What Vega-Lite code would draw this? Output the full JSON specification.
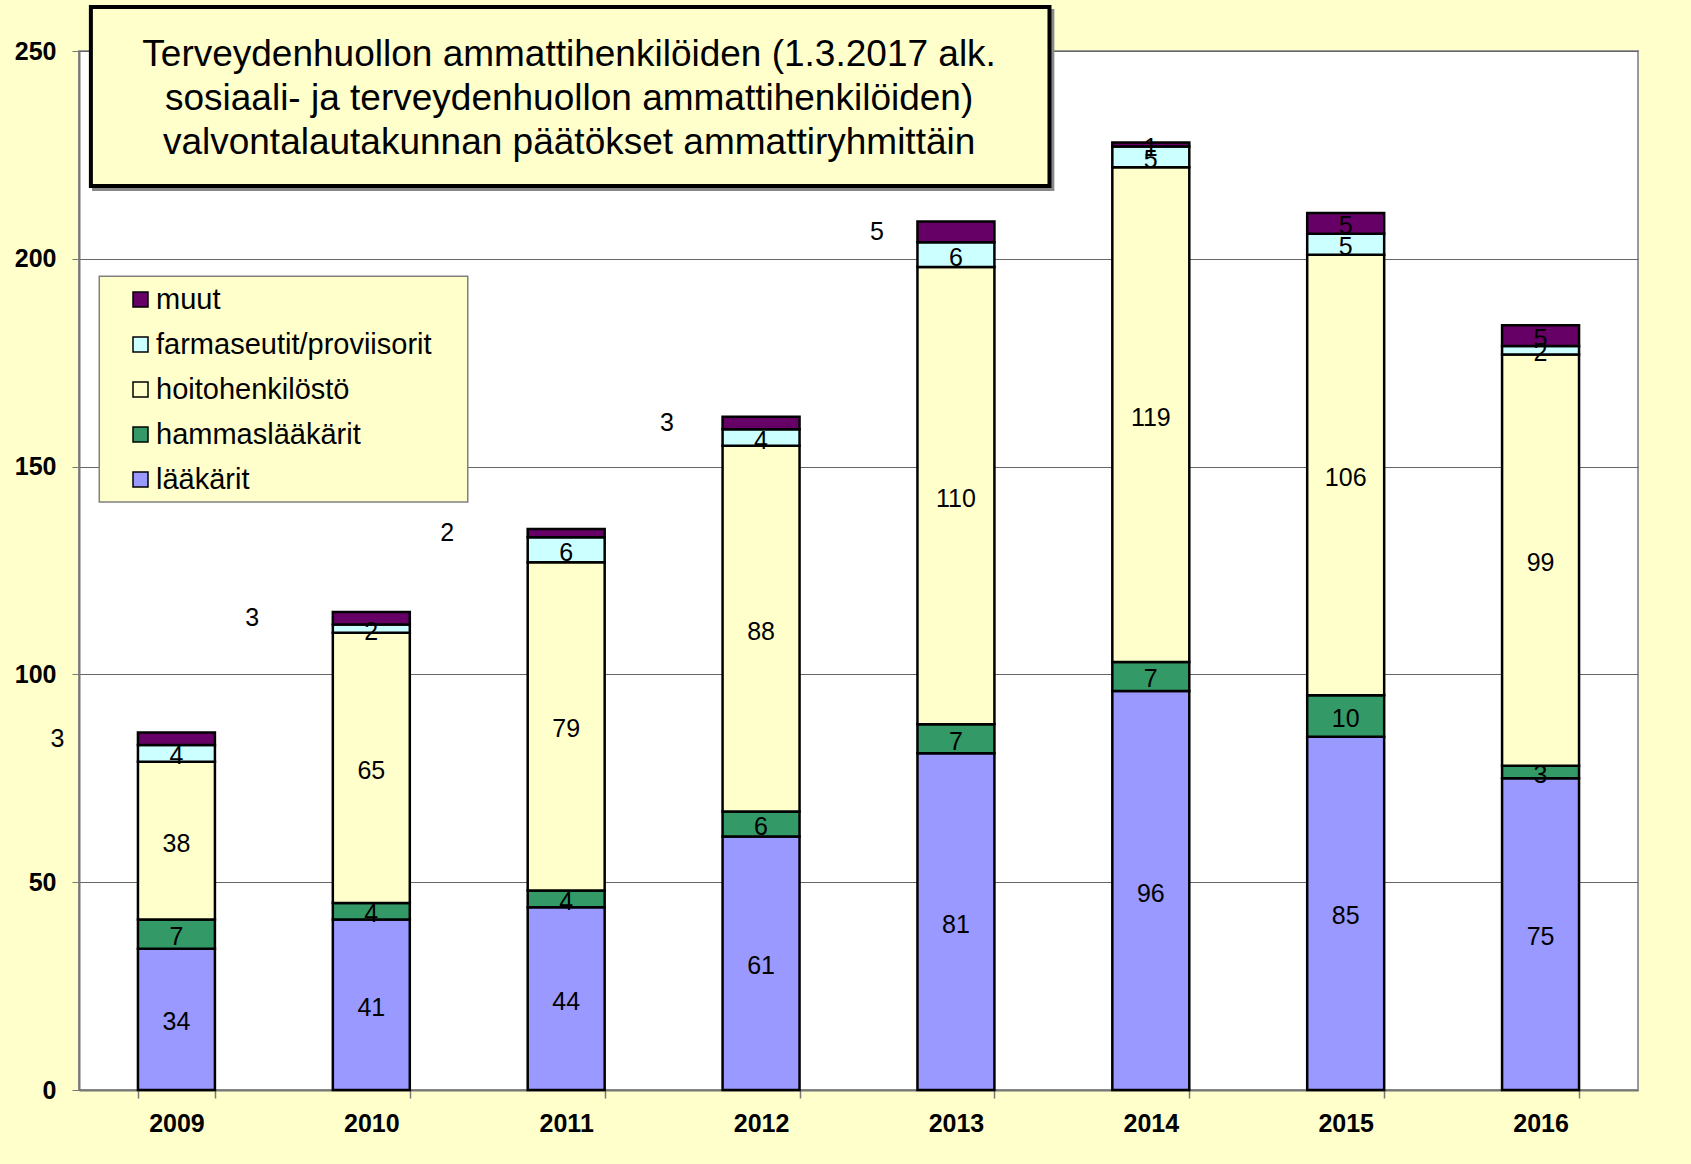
{
  "$schema": "https://vega.github.io/schema/vega-lite/v6.json",
  "width": 1559,
  "height": 1039,
  "autosize": {"type": "none"},
  "padding": {"left": 79, "top": 51, "right": 53, "bottom": 74},
  "background": "#FFFFCC",
  "config": {
    "font": "Liberation Sans",
    "view": {"fill": "white", "stroke": "#999999", "strokeWidth": 2}
  },
  "datasets": {
    "d": [
      {"year": "2009", "group": "lääkärit", "n": 34},
      {"year": "2009", "group": "hammaslääkärit", "n": 7},
      {"year": "2009", "group": "hoitohenkilöstö", "n": 38},
      {"year": "2009", "group": "farmaseutit/proviisorit", "n": 4},
      {"year": "2009", "group": "muut", "n": 3},
      {"year": "2010", "group": "lääkärit", "n": 41},
      {"year": "2010", "group": "hammaslääkärit", "n": 4},
      {"year": "2010", "group": "hoitohenkilöstö", "n": 65},
      {"year": "2010", "group": "farmaseutit/proviisorit", "n": 2},
      {"year": "2010", "group": "muut", "n": 3},
      {"year": "2011", "group": "lääkärit", "n": 44},
      {"year": "2011", "group": "hammaslääkärit", "n": 4},
      {"year": "2011", "group": "hoitohenkilöstö", "n": 79},
      {"year": "2011", "group": "farmaseutit/proviisorit", "n": 6},
      {"year": "2011", "group": "muut", "n": 2},
      {"year": "2012", "group": "lääkärit", "n": 61},
      {"year": "2012", "group": "hammaslääkärit", "n": 6},
      {"year": "2012", "group": "hoitohenkilöstö", "n": 88},
      {"year": "2012", "group": "farmaseutit/proviisorit", "n": 4},
      {"year": "2012", "group": "muut", "n": 3},
      {"year": "2013", "group": "lääkärit", "n": 81},
      {"year": "2013", "group": "hammaslääkärit", "n": 7},
      {"year": "2013", "group": "hoitohenkilöstö", "n": 110},
      {"year": "2013", "group": "farmaseutit/proviisorit", "n": 6},
      {"year": "2013", "group": "muut", "n": 5},
      {"year": "2014", "group": "lääkärit", "n": 96},
      {"year": "2014", "group": "hammaslääkärit", "n": 7},
      {"year": "2014", "group": "hoitohenkilöstö", "n": 119},
      {"year": "2014", "group": "farmaseutit/proviisorit", "n": 5},
      {"year": "2014", "group": "muut", "n": 1},
      {"year": "2015", "group": "lääkärit", "n": 85},
      {"year": "2015", "group": "hammaslääkärit", "n": 10},
      {"year": "2015", "group": "hoitohenkilöstö", "n": 106},
      {"year": "2015", "group": "farmaseutit/proviisorit", "n": 5},
      {"year": "2015", "group": "muut", "n": 5},
      {"year": "2016", "group": "lääkärit", "n": 75},
      {"year": "2016", "group": "hammaslääkärit", "n": 3},
      {"year": "2016", "group": "hoitohenkilöstö", "n": 99},
      {"year": "2016", "group": "farmaseutit/proviisorit", "n": 2},
      {"year": "2016", "group": "muut", "n": 5}
    ]
  },
  "layer": [
    {
      "data": {"name": "d"},
      "transform": [{"stack": "n", "groupby": ["year"], "as": ["y0", "y1"]}],
      "layer": [
        {
          "mark": {"type": "bar", "stroke": "black", "strokeWidth": 2.5},
          "encoding": {
            "x": {
              "field": "year", "type": "nominal", "title": null,
              "scale": {"paddingInner": 0.605, "paddingOuter": 0.3025},
              "axis": {
                "labelAngle": 0, "labelFontSize": 25, "labelFontWeight": "bold", "labelColor": "black",
                "labelPadding": 13, "tickBand": "extent", "tickSize": 8, "tickColor": "#777777",
                "domainColor": "#777777", "domainWidth": 2, "tickWidth": 1.5, "grid": false
              }
            },
            "y": {
              "field": "y0", "type": "quantitative", "title": null,
              "scale": {"domain": [0, 250], "nice": false},
              "axis": {
                "values": [0, 50, 100, 150, 200, 250], "labelFontSize": 25, "labelFontWeight": "bold",
                "labelColor": "black", "labelPadding": 16, "tickSize": 7, "tickColor": "#777777",
                "domainColor": "#777777", "domainWidth": 2, "grid": true, "gridColor": "#666666", "gridWidth": 1
              }
            },
            "y2": {"field": "y1"},
            "color": {
              "field": "group", "type": "nominal",
              "scale": {
                "domain": ["muut", "farmaseutit/proviisorit", "hoitohenkilöstö", "hammaslääkärit", "lääkärit"],
                "range": ["#660066", "#CCFFFF", "#FFFFCC", "#339966", "#9999FF"]
              },
              "legend": {
                "title": null, "orient": "none", "legendX": 47, "legendY": 234, "padding": 0,
                "labelFontSize": 29, "labelColor": "black", "labelOffset": 1, "labelLimit": 500,
                "symbolType": "square", "symbolSize": 225, "symbolStrokeColor": "black", "symbolStrokeWidth": 1.5,
                "rowPadding": 15
              }
            }
          }
        },
        {
          "transform": [
            {"filter": {"not": {"and": [{"field": "group", "equal": "muut"}, {"field": "year", "oneOf": ["2009", "2010", "2011", "2012", "2013"]}]}}},
            {"fold": ["y0", "y1"], "as": ["k", "v"]}
          ],
          "mark": {"type": "text", "fontSize": 25, "color": "black", "baseline": "middle", "dy": 3},
          "encoding": {
            "x": {"field": "year", "type": "nominal"},
            "y": {"aggregate": "mean", "field": "v", "type": "quantitative", "title": null},
            "detail": {"field": "group"},
            "text": {"field": "n", "type": "quantitative"}
          }
        },
        {
          "transform": [
            {"filter": {"and": [{"field": "group", "equal": "muut"}, {"field": "year", "oneOf": ["2009", "2010", "2011"]}]}},
            {"fold": ["y0", "y1"], "as": ["k", "v"]}
          ],
          "mark": {"type": "text", "fontSize": 25, "color": "black", "baseline": "middle", "dx": -119},
          "encoding": {
            "x": {"field": "year", "type": "nominal"},
            "y": {"aggregate": "mean", "field": "v", "type": "quantitative", "title": null},
            "detail": {"field": "group"},
            "text": {"field": "n", "type": "quantitative"}
          }
        },
        {
          "transform": [
            {"filter": {"and": [{"field": "group", "equal": "muut"}, {"field": "year", "equal": "2012"}]}},
            {"fold": ["y0", "y1"], "as": ["k", "v"]}
          ],
          "mark": {"type": "text", "fontSize": 25, "color": "black", "baseline": "middle", "dx": -94},
          "encoding": {
            "x": {"field": "year", "type": "nominal"},
            "y": {"aggregate": "mean", "field": "v", "type": "quantitative", "title": null},
            "detail": {"field": "group"},
            "text": {"field": "n", "type": "quantitative"}
          }
        },
        {
          "transform": [
            {"filter": {"and": [{"field": "group", "equal": "muut"}, {"field": "year", "equal": "2013"}]}},
            {"fold": ["y0", "y1"], "as": ["k", "v"]}
          ],
          "mark": {"type": "text", "fontSize": 25, "color": "black", "baseline": "middle", "dx": -79},
          "encoding": {
            "x": {"field": "year", "type": "nominal"},
            "y": {"aggregate": "mean", "field": "v", "type": "quantitative", "title": null},
            "detail": {"field": "group"},
            "text": {"field": "n", "type": "quantitative"}
          }
        }
      ]
    },
    {
      "data": {"values": [{}]},
      "layer": [
        {
          "mark": {"type": "rect", "fill": "#888888"},
          "encoding": {
            "x": {"datum": 0.067, "type": "quantitative", "scale": {"domain": [0, 8], "nice": false, "zero": false}, "axis": null},
            "x2": {"datum": 5.005},
            "y": {"datum": 216.3, "type": "quantitative", "title": null},
            "y2": {"datum": 260.1}
          }
        },
        {
          "mark": {"type": "rect", "fill": "#FFFFCC", "stroke": "black", "strokeWidth": 4},
          "encoding": {
            "x": {"datum": 0.061, "type": "quantitative", "scale": {"domain": [0, 8], "nice": false, "zero": false}, "axis": null},
            "x2": {"datum": 4.98},
            "y": {"datum": 217.5, "type": "quantitative", "title": null},
            "y2": {"datum": 260.6}
          }
        },
        {
          "mark": {"type": "rect", "fill": "#FFFFCC", "stroke": "#808080", "strokeWidth": 1.5},
          "encoding": {
            "x": {"datum": 0.104, "type": "quantitative", "scale": {"domain": [0, 8], "nice": false, "zero": false}, "axis": null},
            "x2": {"datum": 1.995},
            "y": {"datum": 141.5, "type": "quantitative", "title": null},
            "y2": {"datum": 195.8}
          }
        },
        {
          "mark": {
            "type": "text", "fontSize": 37, "color": "black", "align": "center", "baseline": "middle", "lineHeight": 44,
            "text": ["Terveydenhuollon ammattihenkilöiden (1.3.2017 alk.", "sosiaali- ja terveydenhuollon ammattihenkilöiden)", "valvontalautakunnan päätökset ammattiryhmittäin"]
          },
          "encoding": {
            "x": {"datum": 2.515, "type": "quantitative", "scale": {"domain": [0, 8], "nice": false, "zero": false}, "axis": null},
            "y": {"datum": 249.0, "type": "quantitative", "title": null}
          }
        }
      ]
    }
  ],
  "resolve": {"scale": {"x": "independent"}, "axis": {"x": "independent"}}
}
